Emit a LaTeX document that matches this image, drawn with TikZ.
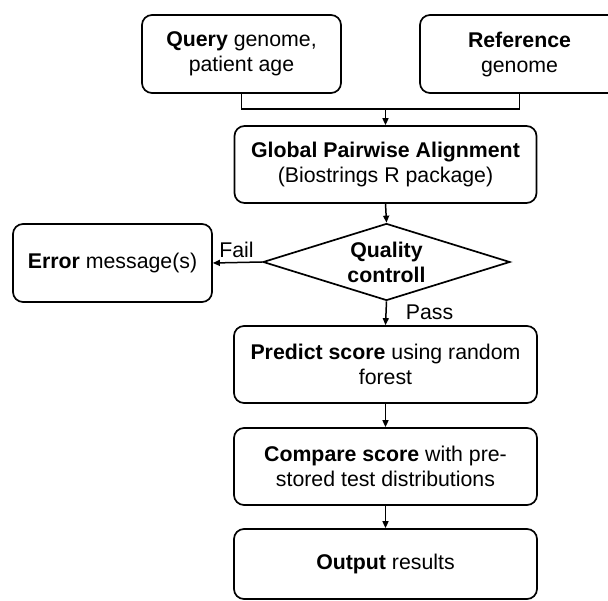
\documentclass[tikz,border=0pt]{standalone}
\usepackage{fontspec}
\setmainfont{Liberation Sans}
\usetikzlibrary{shapes.geometric,arrows.meta}

\begin{document}
\begin{tikzpicture}[x=1pt,y=1pt,yscale=-1,
    stepbox/.style={draw,line width=1.7pt,rounded corners=10pt,align=center,inner sep=0pt,
        font=\fontsize{21.3}{25}\selectfont},
    qcbox/.style={draw,line width=1.7pt,diamond,aspect=3.2,inner sep=0pt,align=center,
        minimum width=247,minimum height=77,font=\bfseries\fontsize{21.3}{25}\selectfont},
    arr/.style={line width=1.5pt,-{Triangle[length=7pt,width=6pt]}},
    lbl/.style={font=\fontsize{21.3}{25}\selectfont,inner sep=1pt}]
    \useasboundingbox (0,0) rectangle (608,601);

    %Shape: Rectangle [Query]
    \node[stepbox,minimum width=199,minimum height=78] (query) at (241.5,54) {\textbf{Query} genome,\\patient age};
    %Shape: Rectangle [Reference]
    \node[stepbox,minimum width=199,minimum height=78] (refgen) at (519.5,54) {\textbf{Reference}\\genome};
    %Shape: Rectangle [Alignment]
    \node[stepbox,minimum width=302,minimum height=77] (align) at (385.5,164.5) {\textbf{Global Pairwise Alignment}\\(Biostrings R package)};
    %Shape: Diamond [Quality]
    \node[qcbox] (qc) at (386.5,262) {Quality\\controll};
    %Shape: Rectangle [Error]
    \node[stepbox,minimum width=199,minimum height=78] (error) at (112.5,263) {\textbf{Error} message(s)};
    %Shape: Rectangle [Predict]
    \node[stepbox,minimum width=303,minimum height=77] (predict) at (385.5,364.5) {\textbf{Predict score} using random\\forest};
    %Shape: Rectangle [Compare]
    \node[stepbox,minimum width=303,minimum height=77] (compare) at (385.5,466.5) {\textbf{Compare score} with pre-\\stored test distributions};
    %Shape: Rectangle [Output]
    \node[stepbox,minimum width=303,minimum height=70] (output) at (385.5,564) {\textbf{Output} results};

    %Straight Lines [join]
    \coordinate (join) at (385.5,109);
    \draw[line width=1.5pt] (query.south) |- (join) -| (refgen.south);
    \draw[arr] (join) -- (align.north);
    \draw[arr] (align.south) -- (qc.north);
    \draw[arr] (qc.west) -- node[lbl,above,pos=0.52,yshift=3pt] {Fail} (error.east);
    \draw[arr] (qc.south) -- node[lbl,right,xshift=18pt,pos=0.45] {Pass} (predict.north);
    \draw[arr] (predict.south) -- (compare.north);
    \draw[arr] (compare.south) -- (output.north);

\end{tikzpicture}
\end{document}
